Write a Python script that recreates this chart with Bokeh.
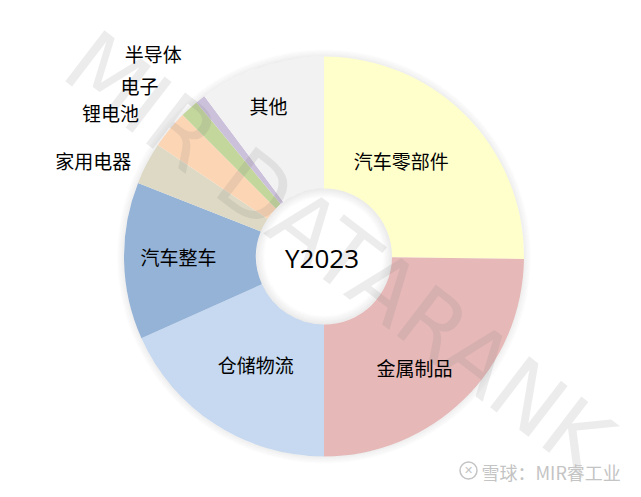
import math
from bokeh.plotting import figure
from bokeh.models import Range1d, ColumnDataSource
from bokeh.core.properties import value
from bokeh.embed import file_html
from bokeh.resources import INLINE

# ---------------- data ----------------
categories = ["汽车零部件", "金属制品", "仓储物流", "汽车整车", "家用电器", "锂电池", "电子", "半导体", "其他"]
shares = [25.2, 24.8, 18.3, 12.7, 3.4, 3.1, 1.5, 0.8, 10.2]
center_label = "Y2023"
watermark = "MIR DATARANK"
source_note = "雪球：MIR睿工业"

# ---------------- style / layout ----------------
colors = ["#FFFFCC", "#E6B9B8", "#C6D9F1", "#95B3D7", "#DDD9C4", "#FCD5B5", "#C3D69B", "#CCC1DA", "#F2F2F2"]
# label placement: (clockwise angle from top in degrees, radius in px)
label_polar = [(38.9, 123), (140.8, 143), (212.2, 128), (270, 145.5), (292.6, 250),
               (304.1, 257.7), (312.8, 251.5), (319.9, 265), (339.8, 160.6)]
W, H = 641, 497
CX, CY = 323.5, 241
R_OUT, R_IN = 200, 68
CJK = value("Noto Sans CJK SC")

p = figure(width=W, height=H, x_range=Range1d(0, W), y_range=Range1d(0, H),
           output_backend="svg", toolbar_location=None, min_border=0)
p.axis.visible = False
p.grid.visible = False
p.outline_line_color = None
p.background_fill_color = "white"
p.border_fill_color = "white"

# wedges
total = sum(shares)
starts, ends = [], []
cum = 0.0
for s in shares:
    c0 = cum / total * 360.0
    cum += s
    c1 = cum / total * 360.0
    starts.append(math.radians(90.0 - c1))
    ends.append(math.radians(90.0 - c0))

src = ColumnDataSource(dict(cat=categories, share=shares, color=colors,
                            start=starts, end=ends,
                            x=[CX] * len(shares), y=[CY] * len(shares)))
p.annular_wedge(x="x", y="y", inner_radius=R_IN, outer_radius=R_OUT,
                start_angle="start", end_angle="end", fill_color="color",
                line_color=None, source=src)

# soft shadow on outer edge and inside the hole
for i in range(7):
    a = 0.16 * (1 - i / 7.0)
    p.annulus(x=CX, y=CY, inner_radius=R_OUT + i, outer_radius=R_OUT + i + 1,
              fill_color="#9a9a9a", fill_alpha=a, line_color=None)
for i in range(9):
    a = 0.20 * (1 - i / 9.0)
    p.annulus(x=CX, y=CY, inner_radius=R_IN - i - 1, outer_radius=R_IN - i,
              fill_color="#9a9a9a", fill_alpha=a, line_color=None)

# watermark
p.text(x=[338], y=[245], text=[watermark], angle=math.radians(-37.5),
       text_align="center", text_baseline="middle", text_font=value("DejaVu Sans"),
       text_font_size="88px", text_color="#7a7a7a", text_alpha=0.14)

# labels
lx, ly = [], []
for a, r in label_polar:
    lx.append(CX + r * math.sin(math.radians(a)))
    ly.append(CY + r * math.cos(math.radians(a)))
p.text(x=lx, y=ly, text=categories, text_align="center", text_baseline="middle",
       text_font=CJK, text_font_size="19px", text_color="black")

p.text(x=[CX - 2], y=[CY - 1], text=[center_label], text_align="center",
       text_baseline="middle", text_font=value("Open Sans"), text_font_size="26px",
       text_color="black")

# source note (bottom right)
p.circle(x=[468], y=[27], radius=8.5, fill_color=None, line_color="#c4c4c4", line_width=1.5)
p.text(x=[468], y=[27], text=["✕"], text_align="center", text_baseline="middle",
       text_font=value("DejaVu Sans"), text_font_size="11px", text_color="#c4c4c4")
p.text(x=[481], y=[25.5], text=[source_note], text_align="left", text_baseline="middle",
       text_font=CJK, text_font_size="18px", text_color="#c4c4c4")

open("out.html", "w").write(file_html(p, INLINE))
